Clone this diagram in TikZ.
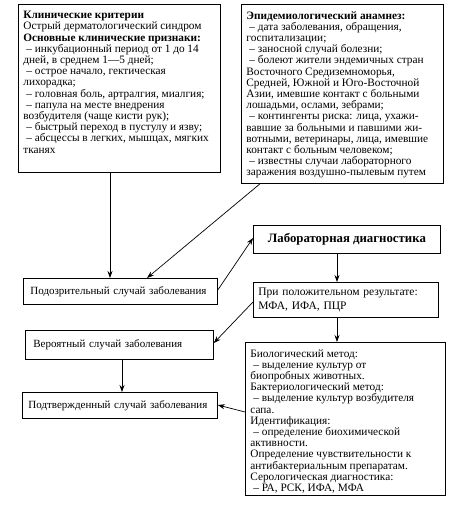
\documentclass[tikz,border=0pt]{standalone}
\usepackage{fontspec}
\setmainfont{Liberation Serif}
\usetikzlibrary{arrows.meta,positioning,calc}
\newcommand{\topbox}[3]{\parbox[t][#2][t]{#1}{\raggedright #3}}
\newcommand{\dl}{\hspace*{3pt}– }
\tikzset{
  block/.style={draw,line width=.8pt,anchor=north west,inner xsep=5pt,inner ysep=7pt,
    font=\fontsize{11.3}{11.2}\selectfont},
  casebox/.style={block,align=left,inner xsep=4pt,inner ysep=4pt,minimum height=26pt,
    font=\fontsize{11}{12}\selectfont},
  arr/.style={-{Stealth[length=7pt,width=5pt]},line width=.7pt}
}

\begin{document}
\begin{tikzpicture}[x=1pt,y=-1pt]
  \useasboundingbox (0,0) rectangle (450,506);
  % criteria boxes
  \node[block] (clin) at (18,4) {\topbox{192pt}{154pt}{%
    \textbf{Клинические критерии}\\
    Острый дерматологический синдром\\
    \textbf{Основные клинические признаки:}\\
    \dl инкубационный период от 1 до 14\\
    дней, в среднем 1—5 дней;\\
    \dl острое начало, гектическая\\
    лихорадка;\\
    \dl головная боль, артралгия, миалгия;\\
    \dl папула на месте внедрения\\
    возбудителя (чаще кисти рук);\\
    \dl быстрый переход в пустулу и язву;\\
    \dl абсцессы в легких, мышцах, мягких\\
    тканях}};
  \node[block] (epid) at (241,4) {\topbox{192pt}{165pt}{%
    \textbf{Эпидемиологический анамнез:}\\
    \dl дата заболевания, обращения,\\
    госпитализации;\\
    \dl заносной случай болезни;\\
    \dl болеют жители эндемичных стран\\
    Восточного Средиземноморья,\\
    Средней, Южной и Юго-Восточной\\
    Азии, имевшие контакт с больными\\
    лошадьми, ослами, зебрами;\\
    \dl контингенты риска: лица, ухажи-\\
    вавшие за больными и павшими жи-\\
    вотными, ветеринары, лица, имевшие\\
    контакт с больным человеком;\\
    \dl известны случаи лабораторного\\
    заражения воздушно-пылевым путем}};
  % laboratory
  \node[block,minimum width=187pt,minimum height=28pt,align=center,inner ysep=4pt,
    font=\fontsize{12.8}{13}\selectfont\bfseries] (lab) at (253,225) {Лабораторная диагностика};
  \node[block,text width=175pt,align=left,minimum height=35pt,inner ysep=4pt,
    font=\fontsize{11.5}{13.5}\selectfont] (pos) at (253,282)
    {При положительном результате:\\МФА, ИФА, ПЦР};
  \node[block] (meth) at (245,342) {\topbox{190pt}{139pt}{%
    Биологический метод:\\
    \dl выделение культур от\\
    биопробных животных.\\
    Бактериологический метод:\\
    \dl выделение культур возбудителя\\
    сапа.\\
    Идентификация:\\
    \dl определение биохимической\\
    активности.\\
    Определение чувствительности к\\
    антибактериальным препаратам.\\
    Серологическая диагностика:\\
    \dl РА, РСК, ИФА, МФА}};
  % case definitions
  \node[casebox,text width=186pt] (susp) at (23,278) {\hspace*{3pt}Подозрительный случай заболевания};
  \node[casebox,text width=180pt,minimum height=29pt] (prob) at (25,330) {\hspace*{4pt}Вероятный случай заболевания};
  \node[casebox,text width=187pt] (conf) at (22,392) {\hspace*{2pt}Подтвержденный случай заболевания};
  % connectors
  \draw[arr] ($(clin.south west)+(92,0)$) -- ($(susp.north west)+(87,0)$);
  \draw[arr] ($(epid.south west)+(19,0)$) -- ($(susp.north west)+(124,0)$);
  \draw[arr] ($(susp.north east)+(0,12)$) -- ($(lab.north west)+(0,13)$);
  \draw[arr] ($(lab.south west)+(84,0)$) -- ($(pos.north west)+(84,0)$);
  \draw[arr] ($(pos.south west)+(84,0)$) -- ($(meth.north west)+(92,0)$);
  \draw[arr] ($(pos.north west)+(0,20)$) -- ($(prob.north east)+(0,13)$);
  \draw[arr] ($(prob.south west)+(97,0)$) -- ($(conf.north west)+(100,0)$);
  \draw[arr] ($(meth.north west)+(0,70)$) -- ($(conf.north east)+(0,13)$);
\end{tikzpicture}
\end{document}
